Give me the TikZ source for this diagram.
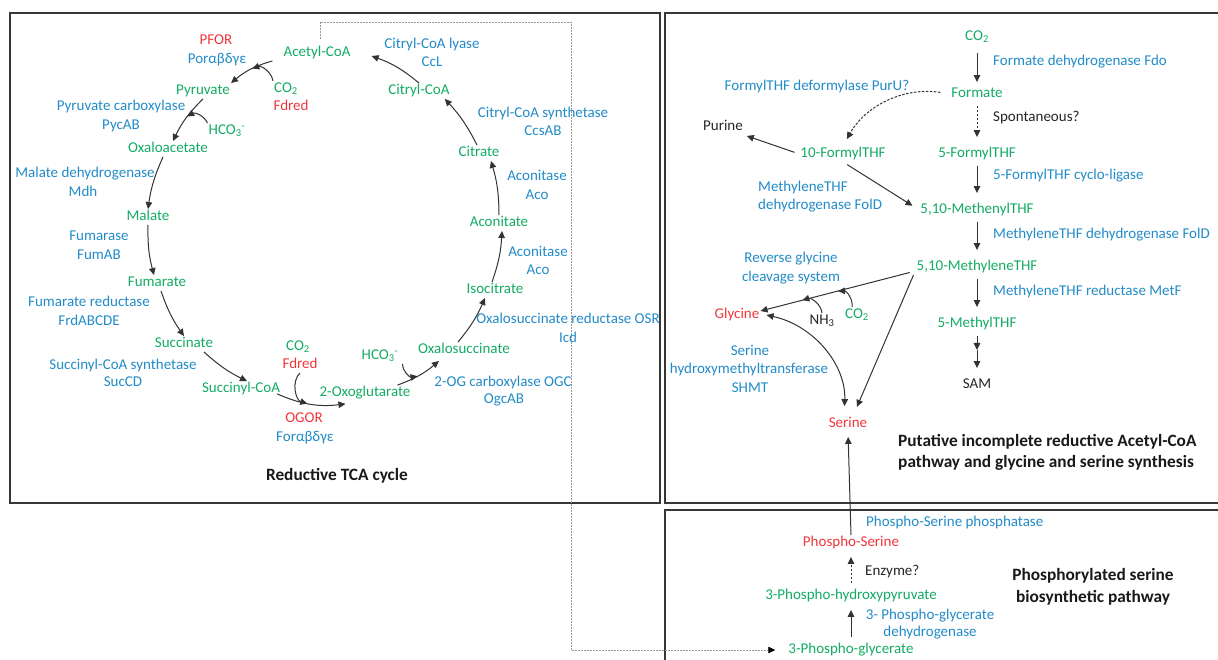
\documentclass[tikz,border=0pt]{standalone}
\usepackage{fontspec}
\setmainfont{Carlito}
\usetikzlibrary{arrows.meta,calc}
\definecolor{cgreen}{RGB}{20,172,100}
\definecolor{cblue}{RGB}{35,140,200}
\definecolor{cred}{RGB}{240,55,60}
\definecolor{cbox}{RGB}{55,55,55}
\begin{document}
\begin{tikzpicture}[x=1pt,y=-1pt,
  every node/.style={font=\fontsize{15}{17}\selectfont, inner sep=1pt, text height=10.5pt, text depth=3pt},
  met/.style={text=cgreen}, enz/.style={text=cblue}, rd/.style={text=cred}, blk/.style={text=black!85},
  ttl/.style={font=\fontsize{17.3}{20}\selectfont\bfseries, text=black!90, text height=12pt, text depth=4pt},
  arr/.style={-{Triangle[length=7pt,width=6.5pt]}, line width=1pt, draw=black!80},
  biarr/.style={{Triangle[length=7pt,width=6.5pt]}-{Triangle[length=7pt,width=6.5pt]}, line width=1pt, draw=black!80},
  darr/.style={arr, dash pattern=on 2.5pt off 1.5pt},
  vshort/.style={shorten <=4pt, shorten >=9pt},
  panel/.style={draw=cbox, line width=2pt},
  link/.style={draw=black!40, line width=0.8pt, dash pattern=on 2pt off 1pt, -{Triangle[length=7pt,width=6.5pt,color=black]}}]
\useasboundingbox (0,0) rectangle (1218,659);
\fill[white] (0,0) rectangle (1218,659);
\clip (0,0) rectangle (1218,659);
% panels
\draw[panel] (10,13) rectangle (660,503);
\draw[panel] (665,13) rectangle (1230,503);
\draw[panel] (665,510) rectangle (1230,670);

% ---------- left: reductive TCA cycle ----------
\node[rd]  (pfor)   at (216,41)  {PFOR};
\node[enz] (por)    at (217,60)  {Porαβδγε};
\node[met] (acetyl) at (317,53)  {Acetyl-CoA};
\node[met] (pyr)    at (203,91)  {Pyruvate};
\node[met] (co2a)   at (286,89)  {CO\textsubscript{2}};
\node[rd]  (fdA)    at (291,107) {Fdred};
\node[enz] (pycA)   at (121,107) {Pyruvate carboxylase};
\node[enz] (pycB)   at (121,126) {PycAB};
\node[met] (hco3a)  at (227,131) {HCO\textsubscript{3}\textsuperscript{-}};
\node[met] (oaa)    at (168,149) {Oxaloacetate};
\node[enz] (mdhA)   at (85,174)  {Malate dehydrogenase};
\node[enz] (mdhB)   at (83,193)  {Mdh};
\node[met] (mal)    at (148,217) {Malate};
\node[enz] (fumA)   at (99,237)  {Fumarase};
\node[enz] (fumB)   at (99,256)  {FumAB};
\node[met] (fum)    at (157,283) {Fumarate};
\node[enz] (frdA)   at (89,303)  {Fumarate reductase};
\node[enz] (frdB)   at (89,322)  {FrdABCDE};
\node[met] (suc)    at (184,344) {Succinate};
\node[enz] (sucA)   at (123,366) {Succinyl-CoA synthetase};
\node[enz] (sucB)   at (123,383) {SucCD};
\node[met] (succoa) at (241,389) {Succinyl-CoA};
\node[met] (co2b)   at (298,347) {CO\textsubscript{2}};
\node[rd]  (fdB)    at (300,365) {Fdred};
\node[rd]  (ogorA)  at (304,419) {OGOR};
\node[enz] (ogorB)  at (305,438) {Forαβδγε};
\node[met] (oxo)    at (365,393) {2-Oxoglutarate};
\node[met] (hco3b)  at (380,356) {HCO\textsubscript{3}\textsuperscript{-}};
\node[met] (oxs)    at (464,350) {Oxalosuccinate};
\node[enz] (ogcA)   at (503,383) {2-OG carboxylase OGC};
\node[enz] (ogcB)   at (504,400) {OgcAB};
\node[met] (iso)    at (495,290) {Isocitrate};
\node[enz] (osrA)   at (568,320) {Oxalosuccinate reductase OSR};
\node[enz] (osrB)   at (568,339) {Icd};
\node[met] (acon)   at (499,223) {Aconitate};
\node[enz] (acoA2)  at (538,253) {Aconitase};
\node[enz] (acoB2)  at (538,271) {Aco};
\node[met] (cit)    at (479,153) {Citrate};
\node[enz] (acoA1)  at (537,177) {Aconitase};
\node[enz] (acoB1)  at (537,196) {Aco};
\node[enz] (ccsA)   at (543,114) {Citryl-CoA synthetase};
\node[enz] (ccsB)   at (543,132) {CcsAB};
\node[met] (citcoa) at (419,91)  {Citryl-CoA};
\node[enz] (cclA)   at (432,45)  {Citryl-CoA lyase};
\node[enz] (cclB)   at (432,63)  {CcL};
\node[ttl] (t1)     at (337,476) {Reductive TCA cycle};

\draw[arr] ([xshift=-10pt]acetyl.south west) to[bend right=12] node[pos=0.45,coordinate](m1){} (pyr.north east);
\draw[arr] (co2a.north west) to[bend right=50] (m1);
\draw[arr] (pyr.south) to[bend right=10] node[pos=0.45,coordinate](m2){} ([xshift=5pt]oaa.north);
\draw[arr] (hco3a.north west) to[bend right=50] (m2);
\draw[arr] ([xshift=-5pt]oaa.south) to[bend right=8] (mal.north);
\draw[arr] (mal.south) to[bend right=8] ([xshift=-3pt]fum.north);
\draw[arr] ([xshift=4pt]fum.south) to[bend right=8] (suc.north);
\draw[arr] ([xshift=20pt]suc.south) to[bend right=8] ([xshift=6pt]succoa.north);
\draw[arr] ([xshift=-4pt,yshift=3pt]succoa.south east) to[bend right=15] node[pos=0.45,coordinate](m3){} ([xshift=27pt,yshift=-3pt]oxo.south west);
\draw[arr] (fdB.south) to[bend right=60] (m3);
\draw[arr] ([xshift=-14pt]oxo.north east) to[bend right=10] node[pos=0.45,coordinate](m4){} ([xshift=22pt,yshift=-3pt]oxs.south west);
\draw[arr] ([xshift=3pt]hco3b.south east) to[bend right=50] (m4);
\draw[arr] ([xshift=-6pt]oxs.north) to[bend right=8] ([xshift=-10pt]iso.south);
\draw[arr] ([xshift=-3pt]iso.north) to[bend right=8] ([xshift=3pt]acon.south);
\draw[arr] (acon.north) to[bend right=8] ([xshift=12pt]cit.south);
\draw[arr] ([xshift=-2pt]cit.north) to[bend right=8] ([xshift=-6pt]citcoa.south east);
\draw[arr] (citcoa.north) to[bend right=10] ([xshift=20pt,yshift=-3pt]acetyl.east);

% ---------- right top ----------
\node[met] (co2r)     at (977,37)  {CO\textsubscript{2}};
\node[enz,anchor=west] (fdo)   at (992,62)  {Formate dehydrogenase Fdo};
\node[met] (formate)  at (977,94)  {Formate};
\node[blk,anchor=west] (spont) at (992,118) {Spontaneous?};
\node[met] (formyl5)  at (977,154) {5-FormylTHF};
\node[enz,anchor=west] (cyclo) at (992,176) {5-FormylTHF cyclo-ligase};
\node[met] (methenyl) at (977,210) {5,10-MethenylTHF};
\node[enz,anchor=west] (fold)  at (992,235) {MethyleneTHF dehydrogenase FolD};
\node[met] (methylene) at (977,267) {5,10-MethyleneTHF};
\node[enz,anchor=west] (metf)  at (992,292) {MethyleneTHF reductase MetF};
\node[met] (methyl)   at (977,324) {5-MethylTHF};
\node[blk] (sam)      at (977,385) {SAM};
\node[enz] (puru)     at (817,87)  {FormylTHF deformylase PurU?};
\node[blk] (purine)   at (723,127) {Purine};
\node[met] (formyl10) at (843,154) {10-FormylTHF};
\node[enz,anchor=west] (foldA) at (757,188) {MethyleneTHF};
\node[enz,anchor=west] (foldB) at (757,206) {dehydrogenase FolD};
\node[enz] (rgcA)     at (791,259) {Reverse glycine};
\node[enz] (rgcB)     at (791,278) {cleavage system};
\node[rd]  (gly)      at (737,315) {Glycine};
\node[blk] (nh3)      at (822,321) {NH\textsubscript{3}};
\node[met] (co2c)     at (857,315) {CO\textsubscript{2}};
\node[enz] (shmtA)    at (750,352) {Serine};
\node[enz] (shmtB)    at (749,370) {hydroxymethyltransferase};
\node[enz] (shmtC)    at (750,389) {SHMT};
\node[rd]  (ser)      at (848,424) {Serine};
\node[ttl,anchor=west] (t2a) at (897,442) {Putative incomplete reductive Acetyl-CoA};
\node[ttl,anchor=west] (t2b) at (897,463) {pathway and glycine and serine synthesis};

\draw[arr, shorten <=8pt, shorten >=4pt] (co2r.south) -- (formate.north);
\draw[darr, vshort] (formate.south) -- (formyl5.north);
\draw[arr, vshort] (formyl5.south) -- (methenyl.north);
\draw[arr, vshort] (methenyl.south) -- (methylene.north);
\draw[arr, vshort] (methylene.south) -- (methyl.north);
\coordinate (sm) at ($(methyl.south)!0.4!(sam.north)$);
\draw[arr, shorten <=4pt] (methyl.south) -- (sm);
\draw[arr, shorten >=9pt] (sm) -- (sam.north);
\draw[darr, shorten <=10pt, shorten >=8pt] (formate.west) to[bend right=35] (formyl10.north);
\draw[arr, shorten <=5pt, shorten >=3pt] (formyl10.west) -- (purine.south east);
\draw[arr, shorten <=5pt, shorten >=8pt] (formyl10.south) -- (methenyl.west);
\draw[arr, shorten <=6pt] ([yshift=-4pt]methylene.west) -- node[pos=0.5,coordinate](m5){} node[pos=0.73,coordinate](m6){} ([yshift=4pt]gly.east);
\draw[arr] (nh3.north) to[bend right=50] (m6);
\draw[arr] ([xshift=-5pt]co2c.north) to[bend right=50] (m5);
\draw[arr, shorten >=10pt] ([xshift=-2pt]methylene.south west) -- ([xshift=5pt]ser.north);
\draw[biarr, shorten >=10pt] ([xshift=6pt]gly.east) to[bend left=40] ([xshift=-4pt]ser.north);

% ---------- right bottom ----------
\node[enz,anchor=west] (psp) at (865,523) {Phospho-Serine phosphatase};
\node[rd]  (pser) at (851,543) {Phospho-Serine};
\node[blk,anchor=west] (enzq) at (864,572) {Enzyme?};
\node[met] (php)  at (851,596) {3-Phospho-hydroxypyruvate};
\node[enz] (pgdA) at (930,616) {3- Phospho-glycerate};
\node[enz] (pgdB) at (930,633) {dehydrogenase};
\node[met] (pg3)  at (851,650) {3-Phospho-glycerate};
\node[ttl] (t3a)  at (1093,576) {Phosphorylated serine};
\node[ttl] (t3b)  at (1093,598) {biosynthetic pathway};

\draw[arr, shorten >=5pt] (pser.north) -- (ser.south);
\draw[darr, shorten <=5pt, shorten >=6pt] (php.north) -- (pser.south);
\draw[arr, shorten <=5pt, shorten >=6pt] (pg3.north) -- (php.south);

% link from acetyl-CoA to 3-phospho-glycerate
\coordinate (lk) at (571,22);
\draw[link, shorten <=6pt, shorten >=12pt] ([xshift=3pt]acetyl.north) |- (lk) |- (pg3.west);
\end{tikzpicture}
\end{document}
